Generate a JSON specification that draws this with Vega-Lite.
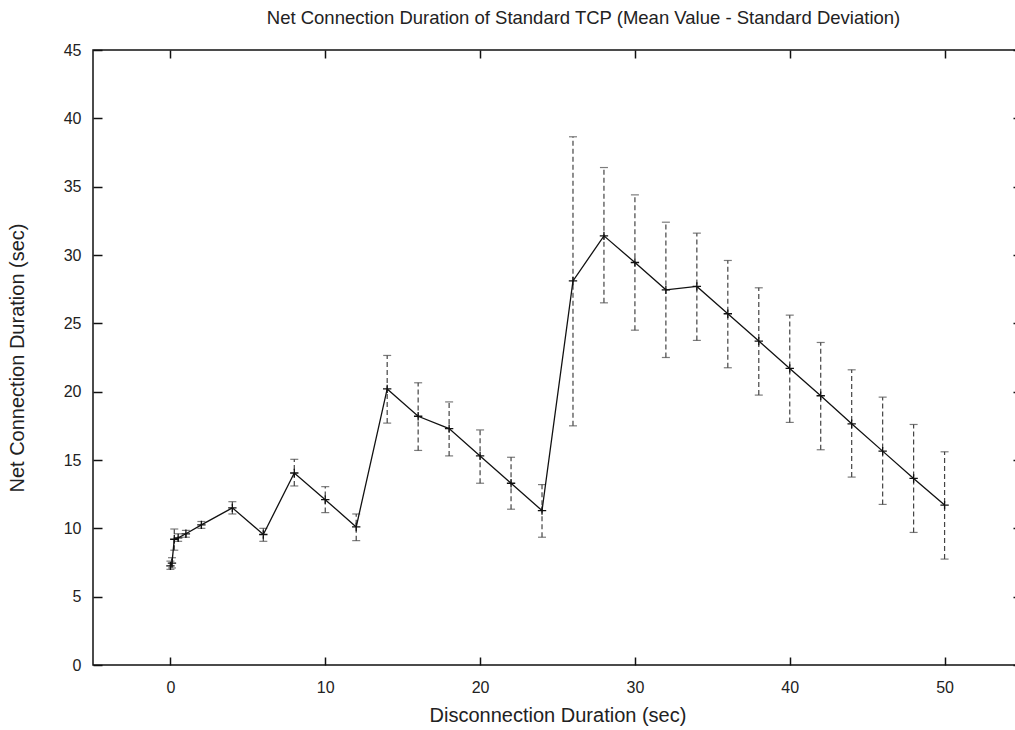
{
  "$schema": "https://vega.github.io/schema/vega-lite/v6.json",
  "autosize": {"type": "none"},
  "width": 929,
  "height": 615,
  "padding": {"left": 93, "top": 50, "right": 0, "bottom": 65},
  "background": "white",
  "title": {
    "text": "Net Connection Duration of Standard TCP (Mean Value - Standard Deviation)",
    "font": "Liberation Sans",
    "fontSize": 18.5,
    "fontWeight": "normal",
    "color": "#222",
    "anchor": "middle",
    "dx": 26,
    "offset": 15
  },
  "config": {
    "view": {"stroke": "#111", "strokeWidth": 1.5},
    "axis": {
      "grid": false,
      "domain": false,
      "tickColor": "#111",
      "tickWidth": 1.5,
      "labelFont": "Liberation Sans",
      "labelFontSize": 16,
      "labelColor": "#222",
      "titleFont": "Liberation Sans",
      "titleFontSize": 20,
      "titleFontWeight": "normal",
      "titleColor": "#222"
    }
  },
  "resolve": {"axis": {"x": "independent", "y": "independent"}},
  "data": {
    "values": [
      {"x": 0, "y": 7.25, "lo": 7.0, "hi": 7.6},
      {"x": 0.1, "y": 7.45, "lo": 7.1, "hi": 7.85},
      {"x": 0.25, "y": 9.2, "lo": 8.4, "hi": 9.95},
      {"x": 0.5, "y": 9.3, "lo": 9.05, "hi": 9.6},
      {"x": 1, "y": 9.6, "lo": 9.35, "hi": 9.85},
      {"x": 2, "y": 10.25, "lo": 10.0, "hi": 10.5},
      {"x": 4, "y": 11.5, "lo": 11.05, "hi": 11.95},
      {"x": 6, "y": 9.55, "lo": 9.05, "hi": 10.0},
      {"x": 8, "y": 14.05, "lo": 13.1, "hi": 15.05},
      {"x": 10, "y": 12.1, "lo": 11.15, "hi": 13.05},
      {"x": 12, "y": 10.1, "lo": 9.1, "hi": 11.05},
      {"x": 14, "y": 20.2, "lo": 17.7, "hi": 22.65},
      {"x": 16, "y": 18.2, "lo": 15.7, "hi": 20.65},
      {"x": 18, "y": 17.3, "lo": 15.3, "hi": 19.25},
      {"x": 20, "y": 15.3, "lo": 13.3, "hi": 17.2},
      {"x": 22, "y": 13.3, "lo": 11.4, "hi": 15.2},
      {"x": 24, "y": 11.3, "lo": 9.35, "hi": 13.2},
      {"x": 26, "y": 28.1, "lo": 17.5, "hi": 38.65},
      {"x": 28, "y": 31.4, "lo": 26.5, "hi": 36.4},
      {"x": 30, "y": 29.45, "lo": 24.5, "hi": 34.4},
      {"x": 32, "y": 27.45, "lo": 22.5, "hi": 32.4},
      {"x": 34, "y": 27.7, "lo": 23.75, "hi": 31.6},
      {"x": 36, "y": 25.7, "lo": 21.75, "hi": 29.6},
      {"x": 38, "y": 23.7, "lo": 19.75, "hi": 27.6},
      {"x": 40, "y": 21.7, "lo": 17.75, "hi": 25.6},
      {"x": 42, "y": 19.7, "lo": 15.75, "hi": 23.6},
      {"x": 44, "y": 17.65, "lo": 13.75, "hi": 21.6},
      {"x": 46, "y": 15.65, "lo": 11.75, "hi": 19.6},
      {"x": 48, "y": 13.65, "lo": 9.7, "hi": 17.6},
      {"x": 50, "y": 11.7, "lo": 7.75, "hi": 15.6}
    ]
  },
  "layer": [
    {
      "mark": {"type": "rule", "color": "#444", "strokeWidth": 1.2, "strokeDash": [5, 3]},
      "encoding": {
        "x": {
          "field": "x",
          "type": "quantitative",
          "scale": {"domain": [-5, 55], "nice": false, "zero": false},
          "axis": {
            "orient": "bottom",
            "values": [0, 10, 20, 30, 40, 50],
            "offset": -8,
            "tickSize": 8,
            "labelPadding": 14,
            "title": "Disconnection Duration (sec)",
            "titlePadding": 10
          }
        },
        "y": {
          "field": "lo",
          "type": "quantitative",
          "scale": {"domain": [0, 45], "nice": false},
          "axis": {
            "orient": "left",
            "values": [0, 5, 10, 15, 20, 25, 30, 35, 40, 45],
            "offset": -9,
            "tickSize": 9,
            "labelPadding": 12,
            "title": "Net Connection Duration (sec)",
            "titlePadding": 36
          }
        },
        "y2": {"field": "hi"}
      }
    },
    {
      "mark": {"type": "tick", "orient": "horizontal", "color": "#444", "size": 8, "thickness": 1.2},
      "encoding": {
        "x": {
          "field": "x",
          "type": "quantitative",
          "axis": {
            "orient": "top",
            "values": [0, 10, 20, 30, 40, 50],
            "offset": -8,
            "tickSize": 8,
            "labels": false,
            "title": null
          }
        },
        "y": {
          "field": "lo",
          "type": "quantitative",
          "axis": {
            "orient": "right",
            "values": [0, 5, 10, 15, 20, 25, 30, 35, 40, 45],
            "offset": -9,
            "tickSize": 9,
            "labels": false,
            "title": null
          }
        }
      }
    },
    {
      "mark": {"type": "tick", "orient": "horizontal", "color": "#444", "size": 8, "thickness": 1.2},
      "encoding": {
        "x": {"field": "x", "type": "quantitative", "axis": null},
        "y": {"field": "hi", "type": "quantitative", "axis": null}
      }
    },
    {
      "mark": {"type": "line", "color": "#111", "strokeWidth": 1.3},
      "encoding": {
        "x": {"field": "x", "type": "quantitative", "axis": null},
        "y": {"field": "y", "type": "quantitative", "axis": null}
      }
    },
    {
      "mark": {"type": "point", "shape": "M-1,0L1,0M0,-1L0,1", "filled": false, "color": "#111", "size": 70, "strokeWidth": 1.3, "opacity": 1},
      "encoding": {
        "x": {"field": "x", "type": "quantitative", "axis": null},
        "y": {"field": "y", "type": "quantitative", "axis": null}
      }
    }
  ]
}
